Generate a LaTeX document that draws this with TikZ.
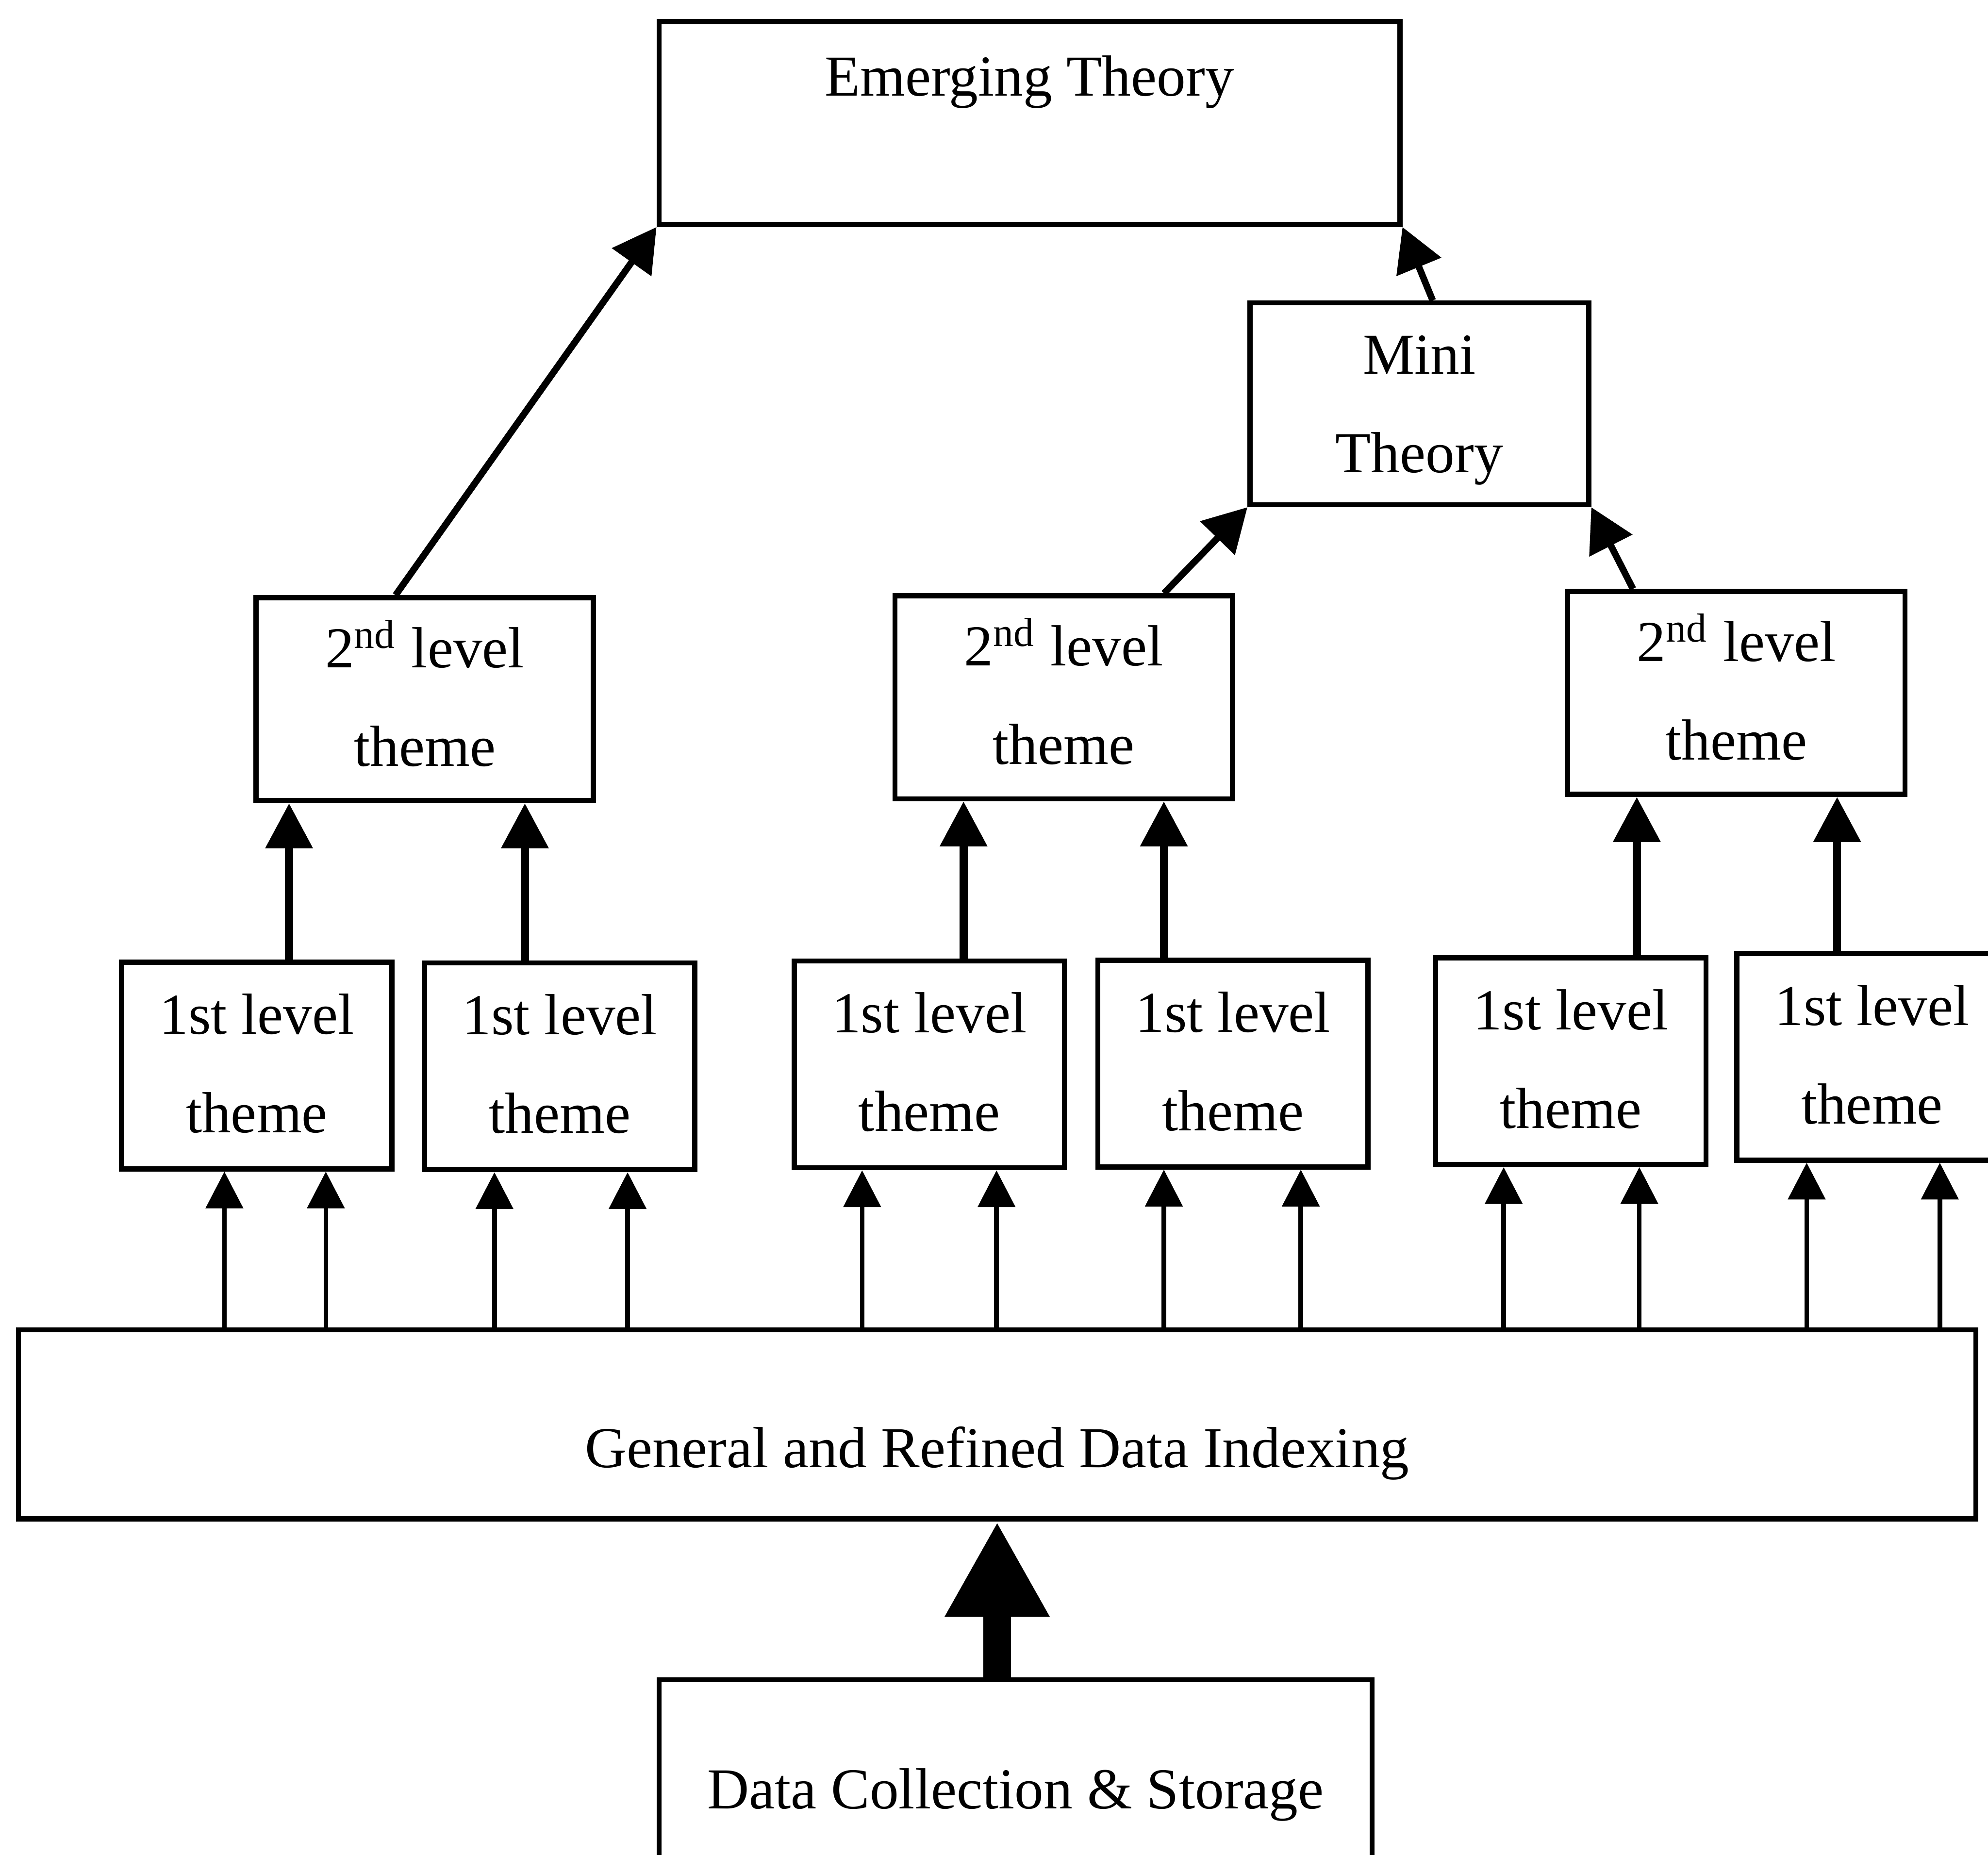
\documentclass[tikz,border=0pt]{standalone}
\usepackage{fontspec}
\setmainfont{Liberation Serif}
\usetikzlibrary{arrows.meta}
\begin{document}
\begin{tikzpicture}[x=0.01cm,y=-0.01cm,
  box/.style={draw,line width=1.15pt,inner sep=0pt,align=center,
    font=\fontsize{13}{22.1}\selectfont},
  theme/.style={box,minimum width=2.13cm,minimum height=1.63cm,text depth=1.1pt},
  second/.style={box,minimum width=2.66cm,minimum height=1.6cm,text depth=2.8pt},
  feed/.style={line width=1.05pt,-{Triangle[width=0.29cm,length=0.29cm]}},
  lift/.style={line width=1.8pt,-{Triangle[width=0.36cm,length=0.355cm]}},
  merge/.style={line width=1.5pt,-{Triangle[width=0.37cm,length=0.34cm]}},
  bulk/.style={line width=0.22cm,-{Triangle[width=0.77cm,length=0.75cm]}}]
\clip (0,0) rectangle (1568,1463);
\fill[white] (0,0) rectangle (1568,1463);

% top level
\node[box,minimum width=5.84cm,minimum height=1.6cm,
  text height=9pt,text depth=21.1pt] (emerg) at (812,97) {Emerging Theory};
\node[box,minimum width=2.67cm,minimum height=1.59cm,
  text depth=0pt] (mini) at (1119.5,318.5) {Mini\\Theory};

% second level themes
\node[second] (s1) at (335,551.5) {2\textsuperscript{nd} level\\theme};
\node[second] (s2) at (839,550) {2\textsuperscript{nd} level\\theme};
\node[second] (s3) at (1369.5,546.5) {2\textsuperscript{nd} level\\theme};

% first level themes
\node[theme] (f1) at (202.5,840.5) {1st level\\theme};
\node[theme] (f2) at (441.5,841) {1st level\\theme};
\node[theme] (f3) at (733,839.5) {1st level\\theme};
\node[theme] (f4) at (972.5,839) {1st level\\theme};
\node[theme] (f5) at (1239,837) {1st level\\theme};
\node[theme] (f6) at (1476.5,833.5) {1st level\\theme};

% data layers
\node[box,minimum width=15.43cm,minimum height=1.49cm,
  text height=22.3pt,text depth=3pt] (idx) at (786.5,1123.5) {General and Refined Data Indexing};
\node[box,minimum width=5.62cm,minimum height=1.81cm] (data) at (801,1415.5) {Data Collection \& Storage};

% indexing feeds the first level themes
\foreach \n/\a/\b in {f1/-25.5/54.5, f2/-51.5/53.5, f3/-53/53, f4/-54.5/53.5, f5/-53/54, f6/-51.5/53.5} {
  \coordinate (pa) at ([xshift=\a*0.01cm]\n.south);
  \coordinate (pb) at ([xshift=\b*0.01cm]\n.south);
  \draw[feed] (idx.north -| pa) -- (pa);
  \draw[feed] (idx.north -| pb) -- (pb);
}

% first level themes grouped into second level themes
\foreach \n/\s/\a in {f1/s1/25.5, f2/s1/-27.5, f3/s2/27, f4/s2/-54.5, f5/s3/52, f6/s3/-27.5} {
  \coordinate (pc) at ([xshift=\a*0.01cm]\n.north);
  \draw[lift] (pc) -- (\s.south -| pc);
}

% towards theory
\draw[merge] ([xshift=-0.23cm]s1.north) -- (emerg.south west);
\draw[merge] ([xshift=0.79cm]s2.north) -- (mini.south west);
\draw[merge] ([xshift=-0.815cm]s3.north) -- (mini.south east);
\draw[merge] ([xshift=0.105cm]mini.north) -- (emerg.south east);

% collected data into indexing
\draw[bulk] (data.north -| idx.south) -- (idx.south);
\end{tikzpicture}
\end{document}
